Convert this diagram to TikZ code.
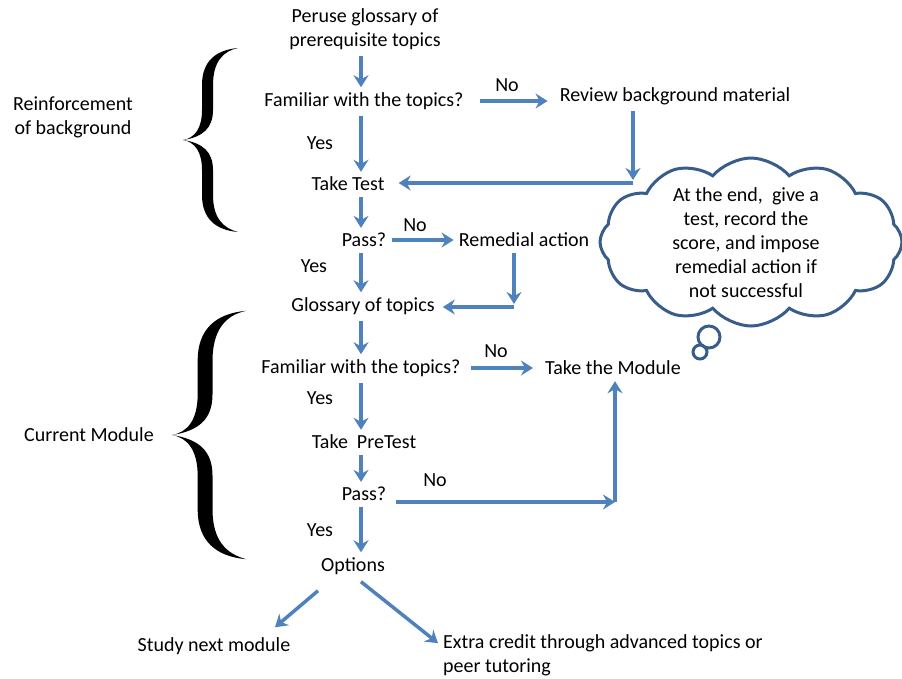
\documentclass[tikz,border=0pt]{standalone}
\usepackage{fontspec}
\setmainfont{Carlito}
\usetikzlibrary{arrows.meta,shapes.symbols,calc,positioning}
\definecolor{flowblue}{RGB}{79,129,189}
\definecolor{cloudblue}{RGB}{56,93,138}

\begin{document}
\begin{tikzpicture}[x=1pt, y=-1pt,
  every node/.style={font=\fontsize{20}{24}\selectfont, inner sep=2pt},
  flow/.style={draw=flowblue, line width=3.5pt, shorten <=4pt, shorten >=3pt,
    -{Stealth[length=12pt,width=15pt,inset=4pt]}},
  bigbrace/.pic={
    \fill (55,-92) .. controls (32,-90) and (19,-78) .. (19,-55) -- (19,-30)
      .. controls (19,-12) and (12,-2) .. (0,0)
      .. controls (12,2) and (19,12) .. (19,30) -- (19,55)
      .. controls (19,78) and (32,90) .. (55,92)
      .. controls (40,88) and (30,78) .. (30,55) -- (30,30)
      .. controls (30,12) and (20,3) .. (0,0)
      .. controls (20,-3) and (30,-12) .. (30,-30) -- (30,-55)
      .. controls (30,-78) and (40,-89) .. (55,-92) -- cycle;
  }]
  \useasboundingbox (0,0) rectangle (902,678);

  % Braces and group labels
  \pic at (183,140) {bigbrace};
  \pic[scale=1.35] at (172,435) {bigbrace};
  \node[align=center] (reinf) at (73,117) {Reinforcement\\of background};
  \node (current) at (89,435) {Current Module};

  % Steps
  \coordinate (spine) at (361,0);
  \node[align=center] (peruse) at (365,29) {Peruse glossary of\\prerequisite topics};
  \node (fam1) at (364,101) {Familiar with the topics?};
  \node (review) at (675,96) {Review background material};
  \node (test) at (348,184) {Take Test};
  \node (pass1) at (364,240) {Pass?};
  \node (remedial) at (524,240) {Remedial action};
  \node (gloss) at (363,306) {Glossary of topics};
  \node (fam2) at (361,368) {Familiar with the topics?};
  \node (module) at (613,368) {Take the Module};
  \node (pretest) at (364,442) {Take\ \ PreTest};
  \node (pass2) at (364,494) {Pass?};
  \node (options) at (353,566) {Options};
  \node (study) at (214,646) {Study next module};
  \node[anchor=west, align=left] (extra) at (441,655)
    {Extra credit through advanced topics or\\peer tutoring};

  % Yes / No labels
  \node (yes1) at (320,143) {Yes};
  \node (no1) at (507,85) {No};
  \node (no2) at (415,225) {No};
  \node (yes2) at (314,266) {Yes};
  \node (no3) at (496,351) {No};
  \node (yes3) at (320,398) {Yes};
  \node (no4) at (435,480) {No};
  \node (yes4) at (320,530) {Yes};

  % Cloud note
  \node[cloud, cloud puffs=12, cloud puff arc=100, cloud ignores aspect, draw=cloudblue,
    line width=3pt, fill=white, minimum width=302, minimum height=168, inner sep=0pt]
    (cloud) at (751,242) {};
  \node[align=center] (note) at ($(cloud.center)+(-5,1)$)
    {At the end,\ \ give a\\test, record the\\score, and impose\\remedial action if\\not successful};
  \draw[cloudblue, line width=3pt] (709,337) circle (11);
  \draw[cloudblue, line width=3pt] (700,352) circle (7);

  % Corners
  \coordinate (c1) at (633,183);
  \coordinate (c2) at (514,307);
  \coordinate (c3) at (615,502);

  % Connectors
  \draw[flow] (peruse.south -| spine) -- (fam1.north -| spine);
  \draw[flow] (fam1.south -| spine) -- (test.north -| spine);
  \draw[flow] (test.south -| spine) -- (pass1.north -| spine);
  \draw[flow] (pass1.south -| spine) -- (gloss.north -| spine);
  \draw[flow] (gloss.south -| spine) -- (fam2.north -| spine);
  \draw[flow] (fam2.south -| spine) -- (pretest.north -| spine);
  \draw[flow] (pretest.south -| spine) -- (pass2.north -| spine);
  \draw[flow] (pass2.south -| spine) -- (options.north -| spine);

  \draw[flow, shorten <=14pt, shorten >=10pt] (fam1.east) -- (review.west |- fam1.east);
  \draw[flow] (review.south -| c1) -- (c1);
  \draw[flow, shorten <=0pt, shorten >=12pt] (c1) -- (test.east |- c1);
  \draw[flow] (pass1.east) -- (remedial.west |- pass1.east);
  \draw[flow] (remedial.south -| c2) -- (c2);
  \draw[flow, shorten <=0pt, shorten >=6pt] (c2) -- (gloss.east |- c2);
  \draw[flow, shorten <=8pt, shorten >=10pt] (fam2.east) -- (module.west |- fam2.east);
  \draw[flow, shorten <=8pt, shorten >=0pt] (pass2.east |- c3) -- (c3);
  \draw[flow, shorten <=0pt, shorten >=4pt] (c3) -- (module.south -| c3);
  \draw[flow, shorten <=0pt, shorten >=0pt] ($(options.south)+(-35,14)$) -- ($(study.north)+(61,-8)$);
  \draw[flow, shorten <=0pt, shorten >=0pt] ($(options.south)+(8,5)$) -- ($(extra.north west)+(-3,11)$);
\end{tikzpicture}
\end{document}
